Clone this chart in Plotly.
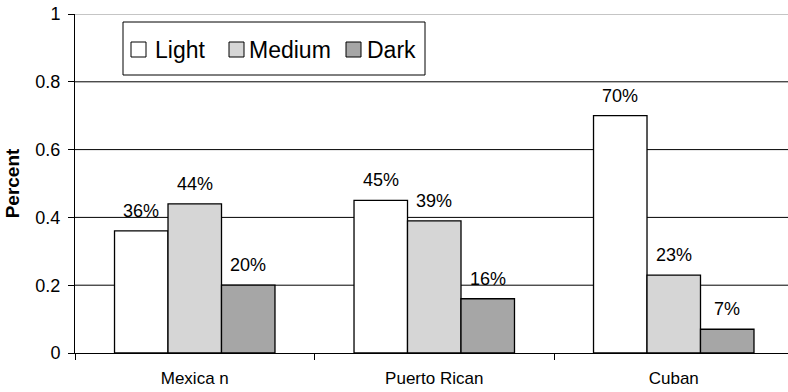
import plotly.graph_objects as go

# Skin tone distribution by origin group
groups = ["Mexica n", "Puerto Rican", "Cuban"]
light = [0.36, 0.45, 0.70]
medium = [0.44, 0.39, 0.23]
dark = [0.20, 0.16, 0.07]
y_ticks = [0, 0.2, 0.4, 0.6, 0.8, 1]
y_tick_text = ["0", "0.2", "0.4", "0.6", "0.8", "1"]

FONT = "Liberation Sans, Arial, sans-serif"
W, H = 788, 392
ML, MR, MT, MB = 75, 0, 14, 39
PW, PH = W - ML - MR, H - MT - MB
BARGAP = 0.33

series = [
    ("Light", light, "#ffffff"),
    ("Medium", medium, "#d6d6d6"),
    ("Dark", dark, "#a6a6a6"),
]


def px_x(p):
    return (p - ML) / PW


def px_y(p):
    return (H - MB - p) / PH


fig = go.Figure()
n = len(series)
bar_w = (1 - BARGAP) / n
for k, (name, vals, color) in enumerate(series):
    fig.add_trace(go.Bar(
        name=name,
        x=groups,
        y=vals,
        marker=dict(color=color, line=dict(color="#000000", width=1.3)),
        showlegend=False,
    ))
    # value labels centred over each bar of the group
    offset = (k - (n - 1) / 2) * bar_w
    for i, v in enumerate(vals):
        fig.add_annotation(
            x=i + offset, y=v, xref="x", yref="y",
            text=f"{round(v * 100)}%", showarrow=False,
            yanchor="bottom", yshift=8,
            font=dict(family=FONT, size=18, color="#000000"),
        )

# horizontal gridlines (the top one is lighter)
for t in y_ticks[1:]:
    fig.add_shape(type="line", xref="paper", yref="y", x0=0, x1=1, y0=t, y1=t,
                  line=dict(color="#8c8c8c" if t == 1 else "#000000", width=1), layer="below")

# legend box
fig.add_shape(type="rect", xref="paper", yref="paper",
              x0=px_x(123), x1=px_x(425), y0=px_y(75), y1=px_y(22),
              line=dict(color="#000000", width=1), fillcolor="#ffffff")
legend_pos = [(131, 153), (229, 247), (346, 365)]
for (name, _, color), (sq, tx) in zip(series, legend_pos):
    fig.add_shape(type="rect", xref="paper", yref="paper",
                  x0=px_x(sq), x1=px_x(sq + 15), y0=px_y(57), y1=px_y(42),
                  line=dict(color="#000000", width=1), fillcolor=color)
    fig.add_annotation(x=px_x(tx), y=px_y(50), xref="paper", yref="paper",
                       text=name, showarrow=False, xanchor="left", yanchor="middle",
                       font=dict(family=FONT, size=23, color="#000000"))

fig.update_layout(
    width=W,
    height=H,
    margin=dict(l=ML, r=MR, t=MT, b=MB),
    paper_bgcolor="#ffffff",
    plot_bgcolor="#ffffff",
    barmode="group",
    bargap=BARGAP,
    bargroupgap=0,
    font=dict(family=FONT, color="#000000"),
    showlegend=False,
    xaxis=dict(
        range=[-0.5, 2.477],
        showline=True,
        linecolor="#000000",
        linewidth=1,
        showgrid=False,
        ticks="outside",
        tickson="boundaries",
        ticklen=6,
        tickcolor="#000000",
        ticklabelstandoff=10,
        tickfont=dict(family=FONT, size=17, color="#000000"),
        zeroline=False,
    ),
    yaxis=dict(
        range=[0, 1],
        tickvals=y_ticks,
        ticktext=y_tick_text,
        showline=True,
        linecolor="#000000",
        linewidth=1,
        showgrid=False,
        ticks="outside",
        ticklen=6,
        tickcolor="#000000",
        ticklabelstandoff=4,
        tickfont=dict(family=FONT, size=18, color="#000000"),
        zeroline=False,
        title=dict(text="<b>Percent</b>", font=dict(family=FONT, size=19, color="#000000"), standoff=10),
    ),
)

fig.write_html("out.html")
